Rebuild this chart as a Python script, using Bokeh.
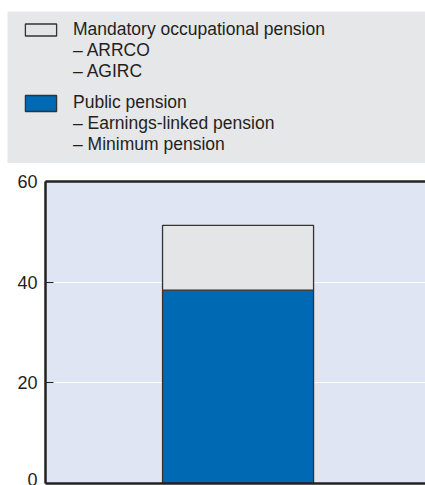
from bokeh.plotting import figure
from bokeh.models import (Legend, LegendItem, FixedTicker, LinearAxis, Range1d, ColumnDataSource)
from bokeh.embed import file_html
from bokeh.resources import INLINE

# ---- data ----
categories = ["France"]
public_pension = [38.4]
occupational_pension = [12.9]
series_names = ["public", "occupational"]
occupational_lines = ["Mandatory occupational pension", "– ARRCO", "– AGIRC"]
public_lines = ["Public pension", "– Earnings-linked pension", "– Minimum pension"]
y_ticks = [0, 20, 40, 60]

FONT = "Liberation Sans"
TXT = "#231f20"
BLUE = "#0069b4"
GREY = "#e4e5e7"
LEG_BG = "#e6e7e9"

src = ColumnDataSource(dict(
    x=list(range(len(categories))),
    public=public_pension,
    occupational=occupational_pension,
))

W = 425
H_TOP = 163
H_MAIN = 322

# ---- legend panel ----
top = figure(width=W, height=H_TOP, output_backend="svg", toolbar_location=None,
             x_range=Range1d(-1.02, 0.993), y_range=Range1d(0, 60),
             x_axis_location=None, y_axis_location=None,
             min_border_left=7, min_border_right=0, min_border_top=11, min_border_bottom=0)
top.background_fill_color = LEG_BG
top.border_fill_color = "white"
top.outline_line_color = None
top.grid.visible = False
leg_r = top.vbar_stack(series_names, x="x", width=0.8, source=src,
                       fill_color=[BLUE, GREY], line_color="#333333", line_width=1.3)
blank_r = top.vbar(x="x", top="occupational", width=0.8, source=src,
                   fill_alpha=0, line_alpha=0)
for r in list(leg_r) + [blank_r]:
    r.visible = False


def make_legend(lines, renderer, loc, gh):
    items = [LegendItem(label=lines[0], renderers=[renderer])]
    items += [LegendItem(label=t, renderers=[blank_r]) for t in lines[1:]]
    return Legend(items=items, location=loc, orientation="vertical",
                  background_fill_alpha=0, border_line_color=None,
                  padding=0, margin=0, spacing=0, label_height=21,
                  glyph_width=39, glyph_height=gh, label_standoff=13,
                  label_text_font=FONT, label_text_font_size="17.5px",
                  label_text_color=TXT)


top.add_layout(make_legend(occupational_lines, leg_r[1], (14, 81), 15))
top.add_layout(make_legend(public_lines, leg_r[0], (14, 8), 20))

# ---- main chart ----
p = figure(width=W, height=H_MAIN, output_backend="svg", toolbar_location=None,
           x_range=Range1d(-1.02, 0.993), y_range=Range1d(0, 60),
           x_axis_location=None,
           min_border_left=45, min_border_right=0, min_border_top=18, min_border_bottom=2)
p.background_fill_color = "#dfe5f3"
p.border_fill_color = "white"
p.outline_line_color = None

p.vbar_stack(series_names, x="x", width=0.8, source=src,
             fill_color=[BLUE, GREY], line_color="#333333", line_width=1.3)

yax = p.yaxis[0]
yax.ticker = FixedTicker(ticks=y_ticks)
yax.major_tick_in = 8
yax.major_tick_out = 0
yax.minor_tick_line_color = None
yax.axis_line_width = 2.5
yax.axis_line_color = "#222222"
yax.major_tick_line_color = "#222222"
yax.major_tick_line_width = 1.2
yax.major_label_standoff = 8
yax.major_label_text_font = FONT
yax.major_label_text_font_size = "18px"
yax.major_label_text_color = TXT

p.ygrid.grid_line_color = "white"
p.ygrid.grid_line_width = 1.2
p.xgrid.grid_line_color = None

for loc in ("above", "below"):
    ax = LinearAxis(ticker=FixedTicker(ticks=[]), major_tick_out=0, major_tick_in=0,
                    minor_tick_out=0, minor_tick_in=0,
                    axis_line_color="#222222", axis_line_width=2.5,
                    major_label_text_font_size="0px")
    p.add_layout(ax, loc)

open("out.html", "w").write(file_html([top, p], INLINE))
